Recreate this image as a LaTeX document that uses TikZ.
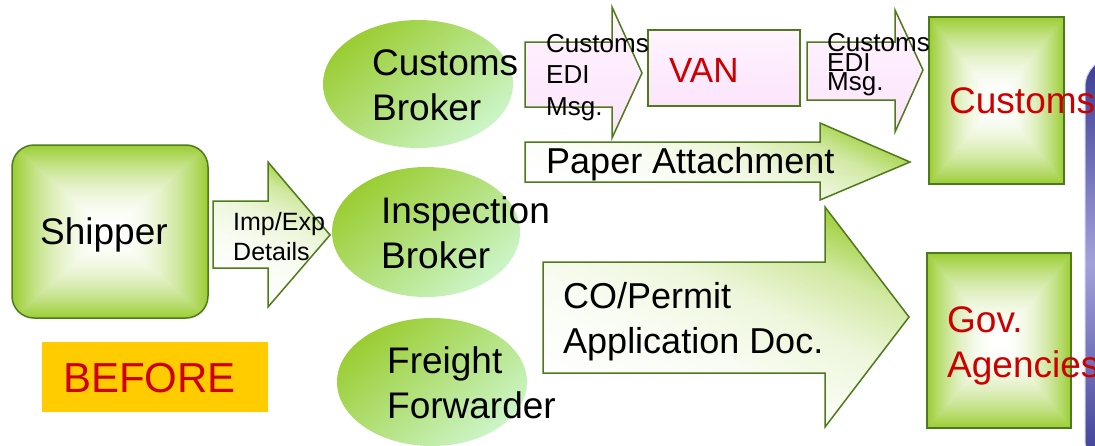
\documentclass[tikz,border=0pt]{standalone}
\usepackage{fontspec}
\setmainfont{Liberation Sans}
\newcommand\fsz[2]{\fontsize{#1}{#2}\selectfont}
\definecolor{ygreen}{RGB}{154,205,50}
\definecolor{mint}{RGB}{204,245,200}
\definecolor{bord}{RGB}{79,122,27}
\definecolor{redtxt}{RGB}{204,0,0}
\definecolor{pinkL}{RGB}{255,244,255}
\definecolor{pinkD}{RGB}{251,228,251}
\definecolor{gold}{RGB}{255,204,0}
\definecolor{blueD}{RGB}{58,58,148}
\definecolor{blueL}{RGB}{162,162,218}
\pgfdeclarefunctionalshading{rectglow}{\pgfpoint{0bp}{0bp}}{\pgfpoint{100bp}{100bp}}{}{
 50 sub abs 25 div exch 50 sub abs 25 div
 2 copy lt {exch} if pop
 dup 1 gt {pop 1} if
 dup mul
 dup 0.396 mul 1 exch sub exch
 dup 0.196 mul 1 exch sub exch
 0.804 mul 1 exch sub
}
\pgfdeclareverticalshading{arrowshade}{100bp}{color(0bp)=(white); color(25bp)=(white); color(42bp)=(white!94!ygreen); color(55bp)=(white!82!ygreen); color(66bp)=(white!55!ygreen); color(75bp)=(ygreen!90!white); color(100bp)=(ygreen!90!white)}
\pgfdeclareverticalshading{bluepanel}{100bp}{color(0bp)=(blueD); color(25bp)=(blueD); color(50bp)=(blueL); color(75bp)=(blueD); color(100bp)=(blueD)}
\begin{document}
\begin{tikzpicture}[x=1pt,y=-1pt,
  txt/.style={anchor=base west, inner sep=0pt, align=left},
  glowbox/.style={shading=rectglow, draw=bord, line width=1.5pt},
  ellshade/.style={top color=ygreen, bottom color=mint, shading angle=40},
  greenarrow/.style={shading=arrowshade, shading angle=-25, draw=bord, line width=1.5pt, line join=miter},
  pinkarrow/.style={top color=pinkL, bottom color=pinkD, draw=bord, line width=1.5pt, line join=miter},
  redlbl/.style={txt, text=redtxt}]
\useasboundingbox (0,0) rectangle (1095,445);
\fill[white] (0,0) rectangle (1095,445);
% blue side panel
\shadedraw[shading=bluepanel, draw=blueL!50!white, line width=1pt, rounded corners=30pt]
  (1085,470) -- (1085,57) -- (1140,57) -- (1140,470) -- cycle;
% shipper
\shadedraw[glowbox, rounded corners=22pt] (12,145) rectangle (208,318);
% ellipses
\shade[ellshade] (418,84) ellipse [x radius=95, y radius=64];
\shade[ellshade] (426,232) ellipse [x radius=94, y radius=65];
\shade[ellshade] (432,382) ellipse [x radius=95, y radius=64];
% Imp/Exp arrow
\shadedraw[greenarrow] (213,201) -- (268,201) -- (268,162) -- (330,235) -- (268,307) -- (268,268) -- (213,268) -- cycle;
% EDI arrow 1
\shadedraw[pinkarrow] (525,42) -- (612,42) -- (612,7) -- (642,73) -- (612,138) -- (612,107) -- (525,107) -- cycle;
% VAN
\shadedraw[top color=pinkL, bottom color=pinkD, draw=bord, line width=1.5pt] (648,30) rectangle (800,106);
% EDI arrow 2
\shadedraw[pinkarrow] (807,42) -- (895,42) -- (895,10) -- (923,70) -- (895,132) -- (895,100) -- (807,100) -- cycle;
% paper attachment
\shadedraw[greenarrow] (525,142) -- (820,142) -- (820,123) -- (910,162) -- (820,200) -- (820,182) -- (525,182) -- cycle;
% CO/Permit
\shadedraw[greenarrow] (543,262) -- (825,262) -- (825,207) -- (909,317) -- (825,427) -- (825,373) -- (543,373) -- cycle;
% customs and gov boxes
\shadedraw[glowbox] (929,17) rectangle (1064,184);
\shadedraw[glowbox] (927,253) rectangle (1071,428);
% BEFORE
\fill[gold] (42,342) rectangle (268,412);
% texts (multi-line nodes: base = last line)
\node[txt, font=\fsz{37}{45}] (shipper) at (40,244) {Shipper};
\node[txt, font=\fsz{25}{30}] (impexp) at (233,260) {Imp/Exp\\Details};
\node[txt, font=\fsz{37}{45}] (cbroker) at (372,120) {Customs\\Broker};
\node[txt, font=\fsz{37}{45}] (ibroker) at (381,268) {Inspection\\Broker};
\node[txt, font=\fsz{37}{45}] (ffwd) at (387,418) {Freight\\Forwarder};
\node[txt, font=\fsz{26}{31.5}] (edia) at (546,115) {Customs\\EDI\\Msg.};
\node[redlbl, font=\fsz{35}{42}] (van) at (669,82) {VAN};
\node[txt, font=\fsz{26}{12.5}] (edib) at (827,90) {Customs\\EDI\\Msg.};
\node[txt, font=\fsz{36}{44}] (paper) at (546,173) {Paper Attachment};
\node[txt, font=\fsz{36}{45}] (copermit) at (563,353) {CO/Permit\\Application Doc.};
\node[redlbl, font=\fsz{37}{45}] (customs) at (949,113) {Customs};
\node[redlbl, font=\fsz{37}{45}] (gov) at (947,377) {Gov.\\Agencies};
\node[redlbl, font=\fsz{42}{50}] (before) at (63,392) {BEFORE};
\end{tikzpicture}
\end{document}
